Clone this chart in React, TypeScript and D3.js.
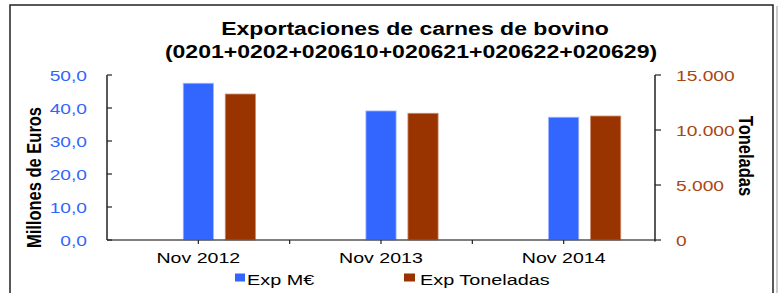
import React from "react";
import * as d3 from "d3";

const categories = ["Nov 2012", "Nov 2013", "Nov 2014"];
const expMEuros = [47.5, 39.1, 37.2];
const expToneladas = [13270, 11520, 11270];
const leftTicks = [0, 10, 20, 30, 40, 50];
const rightTicks = [0, 5000, 10000, 15000];
const titleLines = ["Exportaciones de carnes de bovino", "(0201+0202+020610+020621+020622+020629)"];

const W = 779;
const H = 293;
const SX = 1.28;
const FONT = "'Liberation Sans', Arial, sans-serif";
const BLUE = "#3366FF";
const BROWN = "#993300";
const BROWN_TXT = "#A8470F";

function T({ x, y, children, anchor = "start", size = 15, weight = "normal", fill = "#000", rotate = 0 }: any) {
  return (
    <text
      transform={`translate(${x},${y}) scale(${SX},1) rotate(${rotate})`}
      textAnchor={anchor}
      fontSize={size}
      fontWeight={weight}
      fill={fill}
      fontFamily={FONT}
      style={{ whiteSpace: "pre" }}
    >
      {children}
    </text>
  );
}

export default function App() {
  const plotL = 107, plotR = 655, plotT = 75, plotB = 240;
  const x = d3.scaleLinear().domain([0, 6]).range([plotL, plotR]);
  const yL = d3.scaleLinear().domain([0, 50]).range([plotB, plotT]);
  const yR = d3.scaleLinear().domain([0, 15000]).range([plotB, plotT]);
  const unit = x(1) - x(0);
  const barW = unit * 0.33;
  const brownOffset = unit * 0.46;
  const fmtL = (v: number) => d3.format(".1f")(v).replace(".", ",");
  const fmtR = (v: number) => d3.format(",")(v).replace(/,/g, ".");

  return (
    <svg width={W} height={H} style={{ position: "absolute", left: 0, top: 0, background: "#fff" }}>
      <rect x={0} y={0} width={W} height={H} fill="#fff" />
      {/* frame */}
      <rect x={10} y={5} width={763} height={310} fill="none" stroke="#222" strokeWidth={1.5} />
      <line x1={777} x2={777} y1={6} y2={H} stroke="#999" strokeWidth={1} />

      {/* title */}
      <T x={415} y={35} anchor="middle" size={18} weight="bold">{titleLines[0]}</T>
      <T x={411} y={58} anchor="middle" size={18} weight="bold">{titleLines[1]}</T>

      {/* bars */}
      {categories.map((c, i) => {
        const cx = x(2 * i + 1);
        return (
          <g key={c}>
            <rect x={cx - barW / 2} y={yL(expMEuros[i])} width={barW} height={plotB - yL(expMEuros[i])}
              fill={BLUE} stroke="#9db4ff" strokeWidth={0.8} />
            <rect x={cx + brownOffset - barW / 2} y={yR(expToneladas[i])} width={barW} height={plotB - yR(expToneladas[i])}
              fill={BROWN} stroke="#c98a6a" strokeWidth={0.8} />
          </g>
        );
      })}

      {/* x axis */}
      <line x1={plotL} x2={plotR} y1={plotB} y2={plotB} stroke="#555" strokeWidth={1.5} />
      {d3.range(1, 6).map((k) => (
        <line key={k} x1={x(k)} x2={x(k)} y1={plotB} y2={plotB + 4} stroke="#222" strokeWidth={1.2} />
      ))}
      {categories.map((c, i) => (
        <T key={c} x={x(2 * i + 1)} y={263} anchor="middle" size={15.3}>{c}</T>
      ))}

      {/* left axis */}
      <line x1={plotL} x2={plotL} y1={plotT} y2={plotB} stroke="#222" strokeWidth={1.5} />
      {leftTicks.map((t) => (
        <g key={t}>
          <line x1={plotL} x2={plotL + 5} y1={yL(t)} y2={yL(t)} stroke="#222" strokeWidth={1.2} />
          <T x={87} y={yL(t) + 5.5} anchor="end" size={15} fill={BLUE}>{fmtL(t)}</T>
        </g>
      ))}
      <T x={41} y={177.5} anchor="middle" size={16.5} weight="bold" rotate={-90}>Millones de Euros</T>

      {/* right axis */}
      <line x1={plotR} x2={plotR} y1={plotT} y2={plotB + 1.5} stroke="#222" strokeWidth={1.5} />
      {rightTicks.map((t) => (
        <g key={t}>
          <line x1={plotR} x2={plotR + 6} y1={yR(t)} y2={yR(t)} stroke="#222" strokeWidth={1.2} />
          <T x={676} y={yR(t) + 5.5} anchor="start" size={15} fill={BROWN_TXT}>{fmtR(t)}</T>
        </g>
      ))}
      <T x={739} y={156} anchor="middle" size={16.5} weight="bold" rotate={90}>Toneladas</T>

      {/* legend */}
      <rect x={235} y={273.5} width={10} height={8} fill={BLUE} />
      <T x={247} y={284.5} size={15.5}>Exp M€</T>
      <rect x={404} y={273.5} width={11} height={8} fill={BROWN} />
      <T x={420} y={284.5} size={15.5}>Exp Toneladas</T>
    </svg>
  );
}
